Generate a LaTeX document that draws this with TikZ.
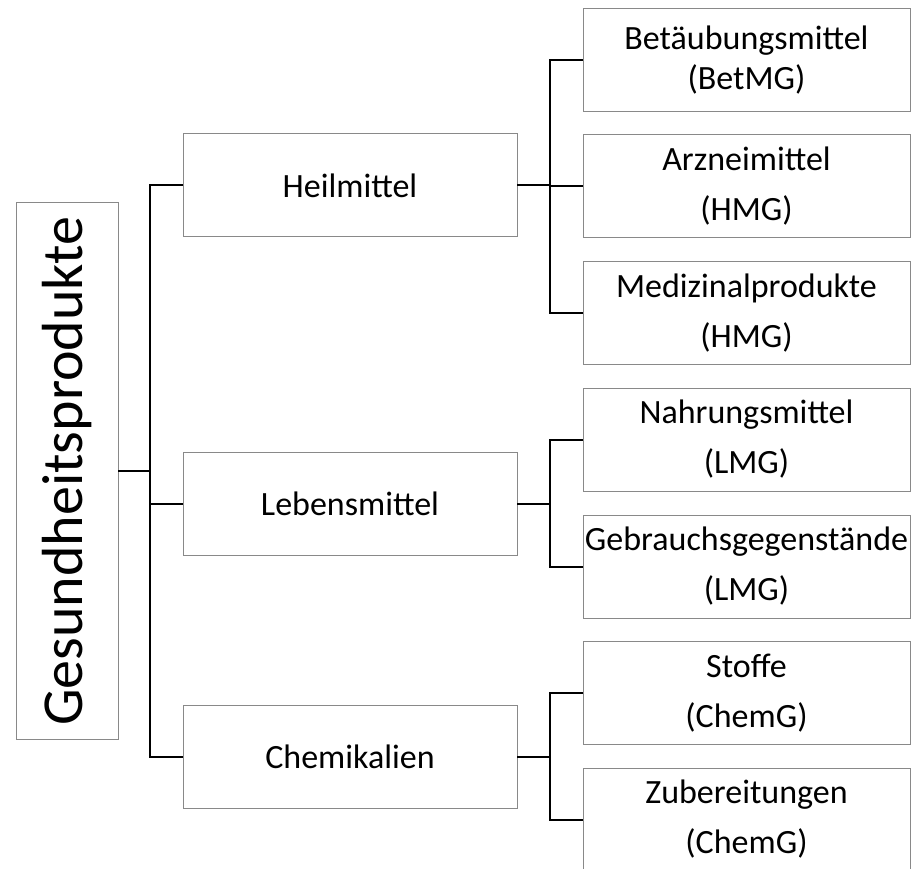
\documentclass[tikz,border=0pt]{standalone}
\usepackage{fontspec}
\setmainfont{Carlito}
\definecolor{boxgray}{RGB}{137,137,137}
\begin{document}
\begin{tikzpicture}[x=1pt,y=-1pt,
  box/.style={draw=boxgray, line width=1pt, rectangle, inner sep=0pt, outer sep=0pt, align=center,
    font=\fontsize{34}{50}\selectfont},
  midbox/.style={box, minimum width=334pt, minimum height=103pt},
  leafbox/.style={box, minimum width=327pt, minimum height=103pt},
  conn/.style={draw=black, line width=2pt}]
\useasboundingbox (0,0) rectangle (911,869);
\clip (0,0) rectangle (911,869);
% root
\node[box, minimum width=102pt, minimum height=536pt] (root) at (67,471) {};
\node[rotate=90, inner sep=0pt, font=\fontsize{58}{60}\selectfont] (roottext) at (67,471) {Gesundheitsprodukte};
% middle
\node[midbox] (heil) at (350,185.5) {Heilmittel};
\node[midbox] (leb) at (350,503.5) {Lebensmittel};
\node[midbox] (chem) at (350,756.5) {Chemikalien};
% leaves
\node[leafbox, font=\fontsize{34}{40}\selectfont] (bet) at (746.5,60) {Betäubungsmittel\\(BetMG)};
\node[leafbox] (arz) at (746.5,186) {Arzneimittel\\(HMG)};
\node[leafbox] (med) at (746.5,313) {Medizinalprodukte\\(HMG)};
\node[leafbox] (nah) at (746.5,439.5) {Nahrungsmittel\\(LMG)};
\node[leafbox] (geb) at (746.5,566.5) {Gebrauchsgegenstände\\(LMG)};
\node[leafbox] (sto) at (746.5,693) {Stoffe\\(ChemG)};
\node[leafbox] (zub) at (746.5,819.5) {Zubereitungen\\(ChemG)};
% trunk coordinates
\coordinate (t) at (150,0);
\coordinate (s) at (550,0);
% root connectors
\draw[conn] (heil.west) -- (heil.west -| t) -- (chem.west -| t) -- (chem.west);
\draw[conn] (root.east) -- (root.east -| t);
\draw[conn] (leb.west -| t) -- (leb.west);
% Heilmittel group
\draw[conn] (heil.east) -- (heil.east -| s);
\draw[conn] (bet.west) -- (bet.west -| s) -- (med.west -| s) -- (med.west);
\draw[conn] (arz.west -| s) -- (arz.west);
% Lebensmittel group
\draw[conn] (leb.east) -- (leb.east -| s);
\draw[conn] (nah.west) -- (nah.west -| s) -- (geb.west -| s) -- (geb.west);
% Chemikalien group
\draw[conn] (chem.east) -- (chem.east -| s);
\draw[conn] (sto.west) -- (sto.west -| s) -- (zub.west -| s) -- (zub.west);
\end{tikzpicture}
\end{document}
